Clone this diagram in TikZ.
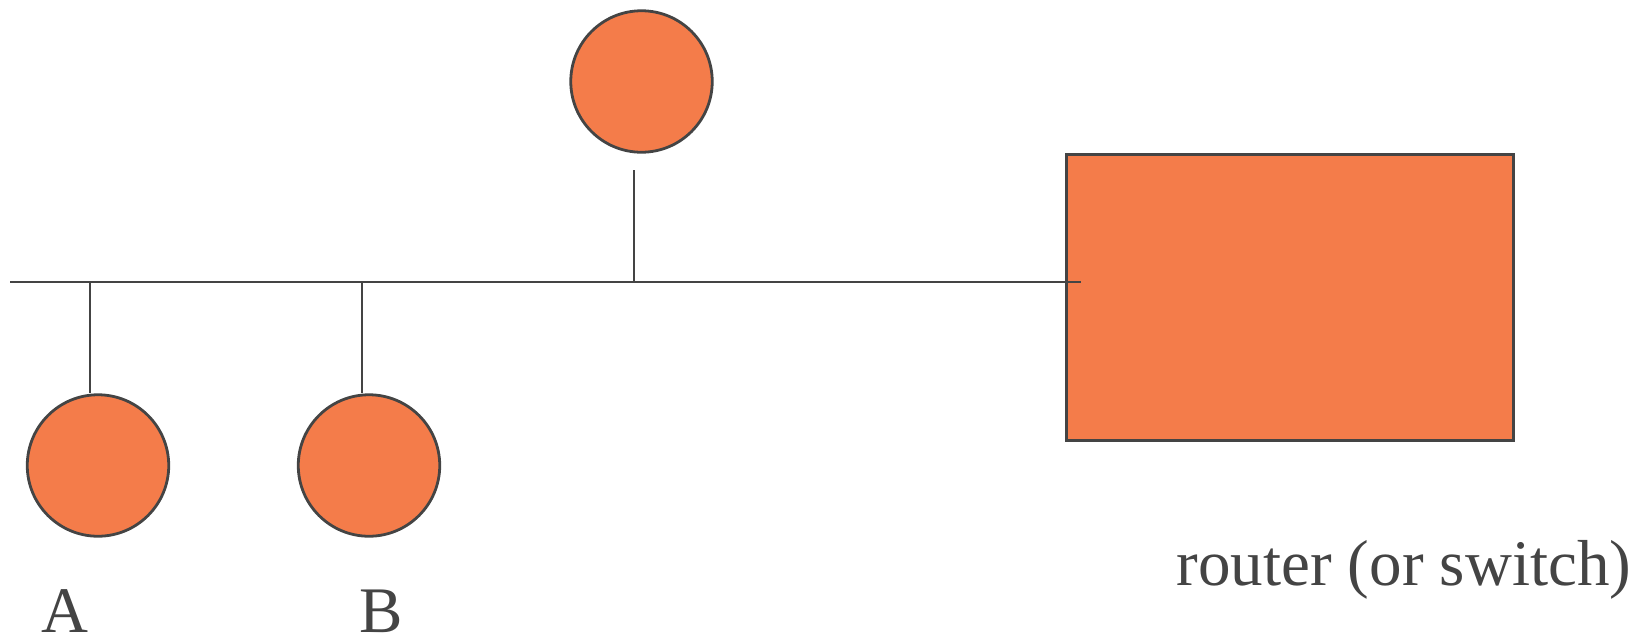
\documentclass[tikz,border=0pt]{standalone}
\usepackage{fontspec}
\setmainfont{Liberation Serif}
\definecolor{hostfill}{HTML}{F47C4A}
\definecolor{inkgray}{HTML}{444444}
\begin{document}
\begin{tikzpicture}[x=0.02cm,y=-0.02cm,
  line width=0.056cm,
  host/.style={circle,draw=inkgray,fill=hostfill,minimum size=2.83cm,inner sep=0pt},
  router/.style={rectangle,draw=inkgray,fill=hostfill,minimum width=8.94cm,minimum height=5.72cm,inner sep=0pt},
  wire/.style={draw=inkgray},
  caption/.style={text=inkgray,font=\fontsize{37}{40}\selectfont,inner sep=0pt}]
\useasboundingbox (0,0) rectangle (1645,636);

% stations and the router
\node[host] (A) at (98,465.5) {};
\node[host] (B) at (369,465.5) {};
\node[host] (C) at (641.5,81.5) {};
\node[router] (R) at (1290,297.5) {};

% shared bus
\coordinate (busW) at (10,282);
\coordinate (busE) at (1081,282);
\draw[wire] (busW) -- (busE);

% taps onto the bus
\coordinate (tapA) at (90,282);
\coordinate (tapB) at (362,282);
\coordinate (tapC) at (634,282);
\coordinate (stubC) at (634,170);
\draw[wire] (tapA) -- (tapA |- A.north);
\draw[wire] (tapB) -- (tapB |- B.north);
\draw[wire] (tapC) -- (stubC);

% labels
\node[caption,anchor=base] (labA) at (65,632) {A};
\node[caption,anchor=base] (labB) at (381,632) {B};
\node[caption,anchor=base west] (labR) at (1175,585) {router (or switch)};
\end{tikzpicture}
\end{document}
